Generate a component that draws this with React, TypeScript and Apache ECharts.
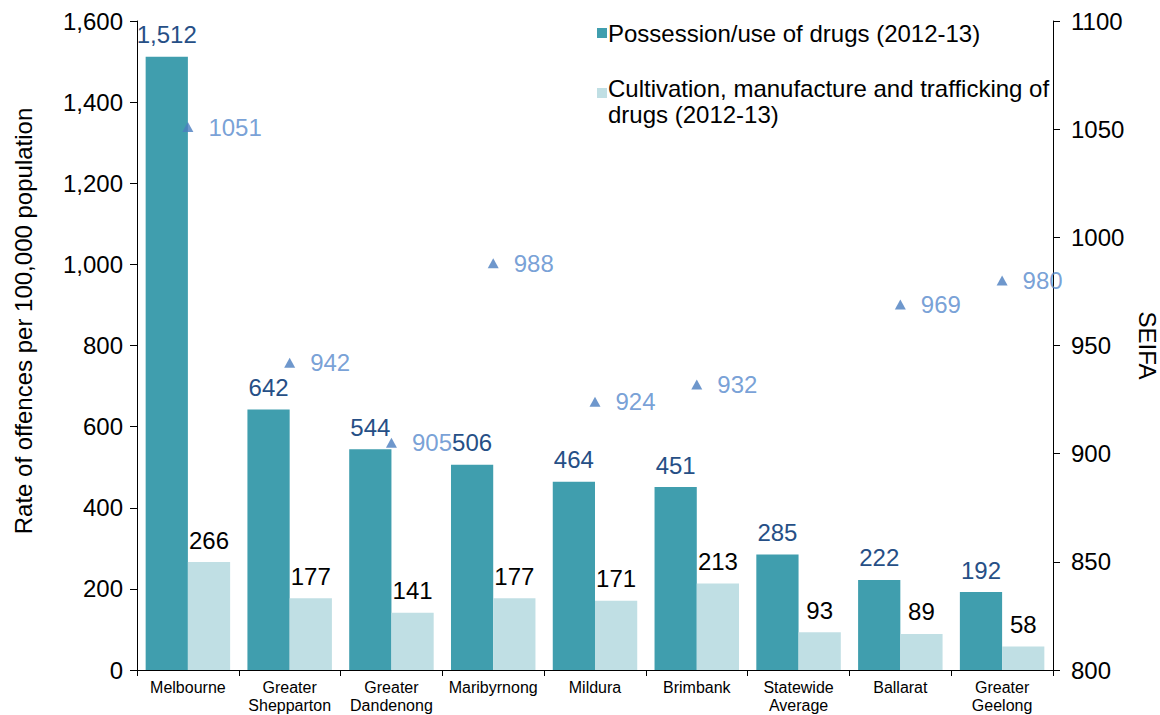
import React, { useEffect, useRef } from "react";
import * as echarts from "echarts";

const categories = [
  "Melbourne",
  "Greater\nShepparton",
  "Greater\nDandenong",
  "Maribyrnong",
  "Mildura",
  "Brimbank",
  "Statewide\nAverage",
  "Ballarat",
  "Greater\nGeelong",
];
const possession = [1512, 642, 544, 506, 464, 451, 285, 222, 192];
const cultivation = [266, 177, 141, 177, 171, 213, 93, 89, 58];
const seifa = [1051, 942, 905, 988, 924, 932, null, 969, 980];
const seriesNames = [
  "Possession/use of drugs (2012-13)",
  "Cultivation, manufacture and trafficking of\ndrugs (2012-13)",
];
const leftTitle = "Rate of offences per 100,000 population";
const rightTitle = "SEIFA";
const leftTicks = { min: 0, max: 1600, interval: 200 };
const rightTicks = { min: 800, max: 1100, interval: 50 };

const FONT = "'Liberation Sans', Arial, sans-serif";
const DARK = "#409eae";
const LIGHT = "#c0dfe4";

export default function App() {
  const ref = useRef<HTMLDivElement>(null);
  useEffect(() => {
    if (!ref.current) return;
    const chart = echarts.init(ref.current, null, { renderer: "svg" });
    const fmt = (v: number) => v.toLocaleString("en-US");
    chart.setOption({
      animation: false,
      textStyle: { fontFamily: FONT },
      grid: {
        left: 137,
        right: 107,
        top: 21,
        bottom: 45,
        containLabel: false,
        outerBoundsMode: "none",
      },
      xAxis: {
        type: "category",
        data: categories,
        axisLine: { lineStyle: { color: "#000", width: 1 } },
        axisTick: { show: true, length: 6, lineStyle: { color: "#000" } },
        axisLabel: {
          interval: 0,
          color: "#000",
          fontSize: 16,
          lineHeight: 18,
          margin: 8,
          fontFamily: FONT,
        },
      },
      yAxis: [
        {
          type: "value",
          min: leftTicks.min,
          max: leftTicks.max,
          interval: leftTicks.interval,
          axisLine: { show: true, lineStyle: { color: "#000" } },
          axisTick: { show: true, length: 7, lineStyle: { color: "#000" } },
          splitLine: { show: false },
          axisLabel: {
            color: "#000",
            fontSize: 24,
            margin: 14,
            formatter: (v: number) => fmt(v),
            fontFamily: FONT,
          },
        },
        {
          type: "value",
          min: rightTicks.min,
          max: rightTicks.max,
          interval: rightTicks.interval,
          position: "right",
          name: rightTitle,
          nameLocation: "middle",
          nameRotate: -90,
          nameGap: 78,
          nameTextStyle: { fontSize: 24, color: "#000", fontFamily: FONT },
          axisLine: { show: true, lineStyle: { color: "#000" } },
          axisTick: { show: true, length: 7, lineStyle: { color: "#000" } },
          splitLine: { show: false },
          axisLabel: {
            color: "#000",
            fontSize: 24,
            margin: 18,
            fontFamily: FONT,
            formatter: (v: number) => String(v),
          },
        },
      ],
      series: [
        {
          name: seriesNames[0],
          type: "bar",
          data: possession,
          barGap: "0%",
          barCategoryGap: "17%",
          itemStyle: { color: DARK },
          label: {
            show: true,
            position: "top",
            distance: 10,
            color: "#264f86",
            fontSize: 24,
            fontFamily: FONT,
            formatter: (p: any) => fmt(p.value),
          },
        },
        {
          name: seriesNames[1],
          type: "bar",
          data: cultivation,
          itemStyle: { color: LIGHT },
          label: {
            show: true,
            position: "top",
            distance: 10,
            color: "#000",
            fontSize: 24,
            fontFamily: FONT,
            formatter: (p: any) => fmt(p.value),
          },
        },
        {
          name: "SEIFA",
          type: "scatter",
          yAxisIndex: 1,
          data: seifa,
          symbol: "triangle",
          symbolSize: [11, 10],
          itemStyle: { color: "#4a7dbf" },
          label: {
            show: true,
            position: "right",
            distance: 15,
            color: "#5588cc",
            fontSize: 24,
            fontFamily: FONT,
          },
          z: 5,
        },
      ],
      graphic: [
        {
          type: "text",
          x: 23,
          y: 321,
          rotation: Math.PI / 2,
          style: {
            text: leftTitle,
            fontSize: 24,
            fontFamily: FONT,
            fill: "#000",
            align: "center",
            verticalAlign: "middle",
          },
        },
        { type: "rect", left: 597, top: 28, shape: { width: 10, height: 10 }, style: { fill: DARK } },
        {
          type: "text",
          x: 608,
          y: 33,
          style: {
            text: seriesNames[0],
            fontSize: 24,
            fontFamily: FONT,
            fill: "#000",
            verticalAlign: "middle",
          },
        },
        { type: "rect", left: 597, top: 88, shape: { width: 10, height: 10 }, style: { fill: LIGHT } },
        {
          type: "text",
          x: 608,
          y: 75,
          style: {
            text: seriesNames[1],
            fontSize: 24,
            lineHeight: 26,
            fontFamily: FONT,
            fill: "#000",
            verticalAlign: "top",
          },
        },
      ],
    });
    return () => chart.dispose();
  }, []);
  return (
    <div
      ref={ref}
      style={{ position: "fixed", left: 0, top: 0, width: 1160, height: 715, background: "#fff" }}
    />
  );
}
